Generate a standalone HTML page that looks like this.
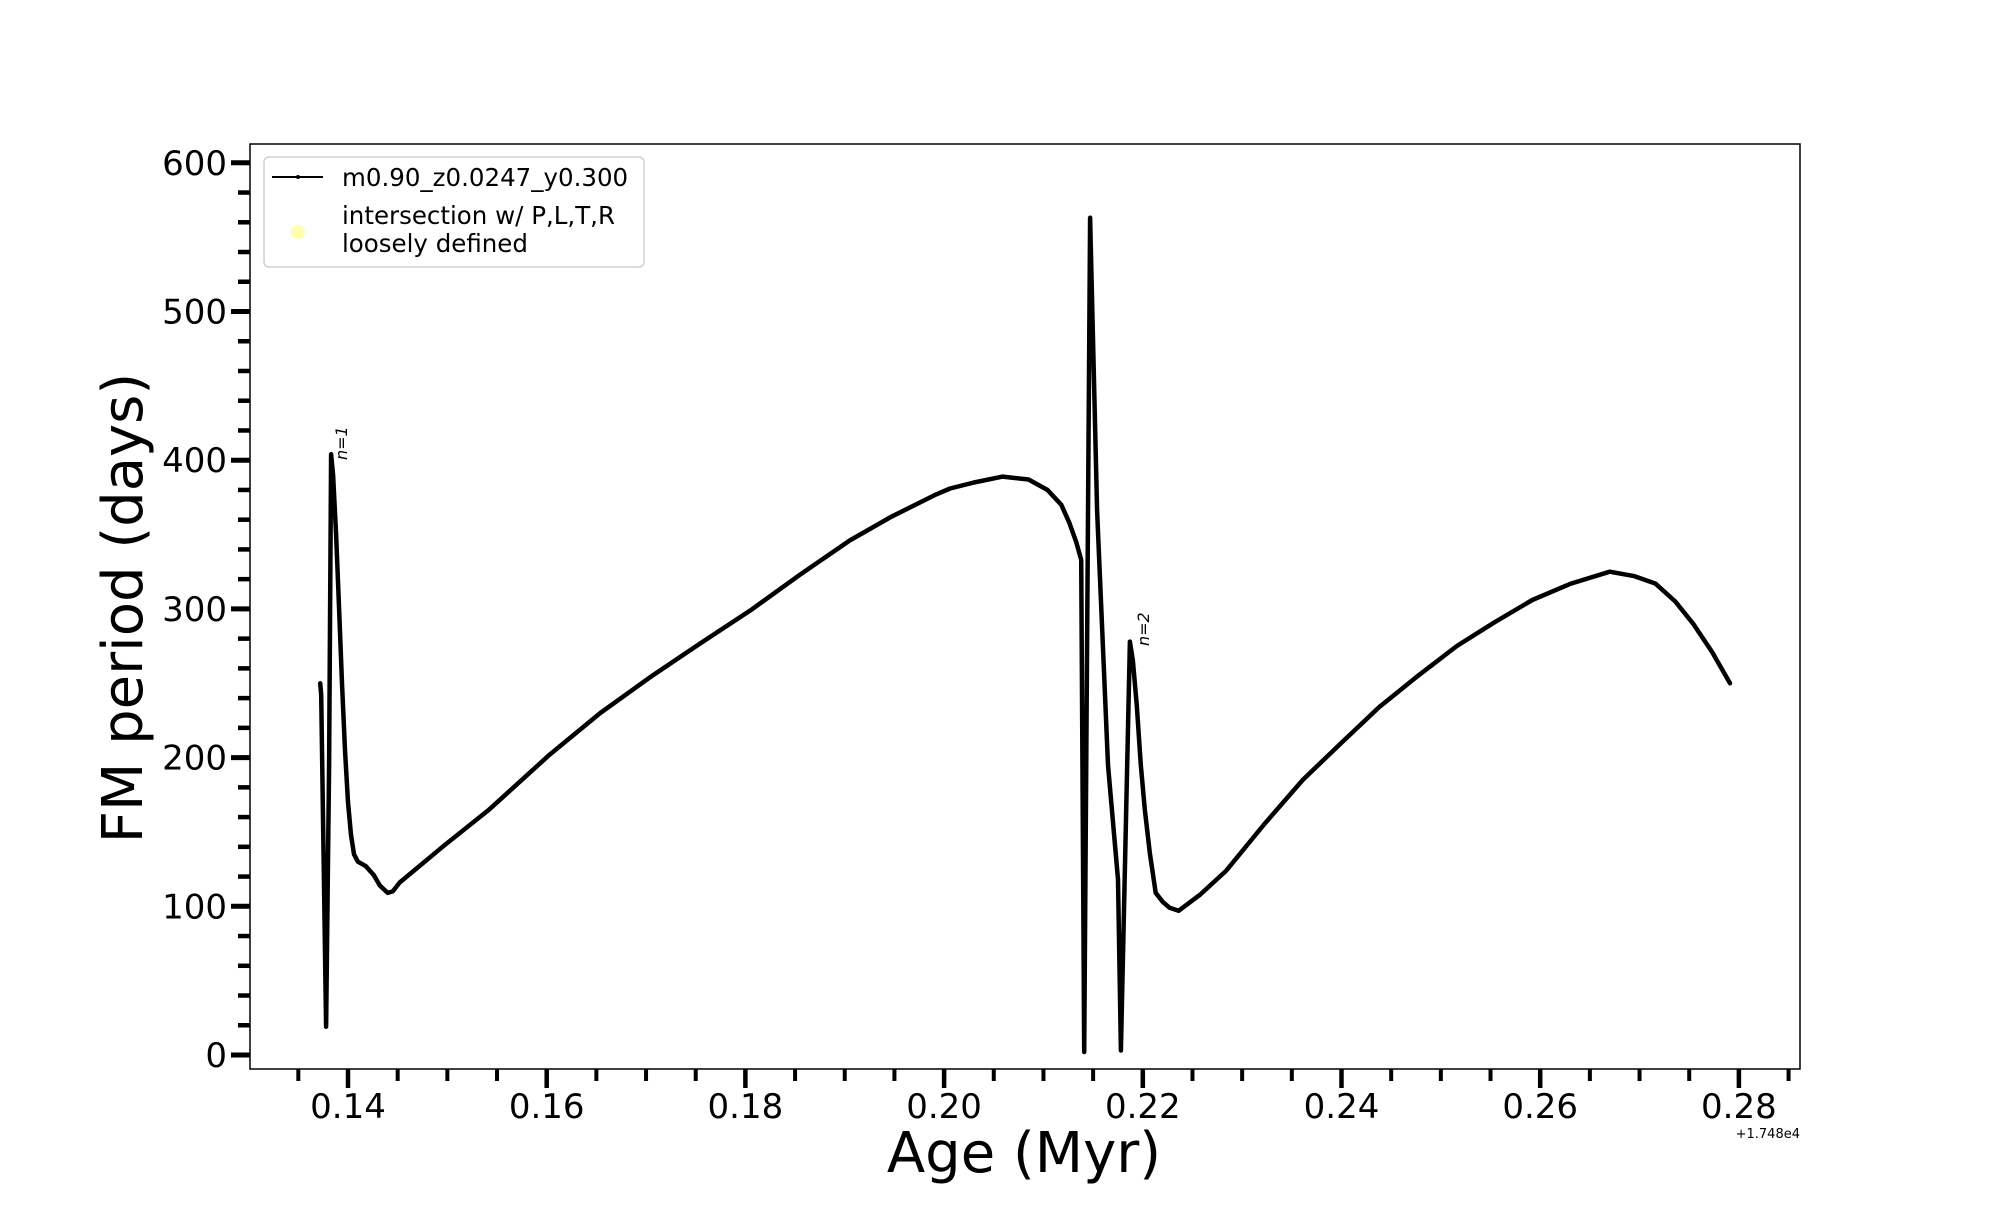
<!DOCTYPE html>
<html><head><meta charset="utf-8">
<style>
html,body{margin:0;padding:0;background:#fff;}
svg text{font-family:"DejaVu Sans","Liberation Sans",sans-serif;}
</style></head>
<body>
<svg id="chart" width="2000" height="1200" viewBox="0 0 2000 1200" xmlns="http://www.w3.org/2000/svg">
<rect x="0" y="0" width="2000" height="1200" fill="#fff"/>
<g id="ticks"></g>
<clipPath id="clip"><rect x="250" y="144" width="1550" height="925"/></clipPath>
<g id="series" clip-path="url(#clip)"></g>
<rect x="250" y="144" width="1550" height="925" fill="none" stroke="#000" stroke-width="1.5"/>
<text x="1024" y="1172" font-size="56" text-anchor="middle">Age (Myr)</text>
<text transform="translate(142,608) rotate(-90)" font-size="56" text-anchor="middle">FM period (days)</text>
<text x="1800" y="1138" font-size="13" text-anchor="end">+1.748e4</text>
<text transform="translate(347,460) rotate(-90)" font-size="16" font-style="italic">n=1</text>
<text transform="translate(1149,646) rotate(-90)" font-size="16" font-style="italic">n=2</text>
<g>
<rect x="264" y="157" width="380" height="110" rx="5" fill="#fff" fill-opacity="0.8" stroke="#d0d0d0" stroke-width="1.5"/>
<line x1="272" y1="177" x2="323" y2="177" stroke="#000" stroke-width="2"/>
<circle cx="298" cy="177" r="2" fill="#000"/>
<text x="342" y="186" font-size="24.5">m0.90_z0.0247_y0.300</text>
<circle cx="298" cy="232" r="7" fill="#ffffb0"/>
<text x="342" y="224" font-size="24.5">intersection w/ P,L,T,R</text>
<text x="342" y="252" font-size="24.5">loosely defined</text>
</g>
</svg>
<script>
const ages = [0.1372,0.1373,0.1378,0.1381,0.1383,0.1385,0.1388,0.1391,0.1394,0.1397,0.1400,0.1403,0.1406,0.1410,0.1418,0.1426,0.1432,0.1440,0.1445,0.1452,0.1497,0.1542,0.1603,0.1654,0.1704,0.1755,0.1805,0.1855,0.1905,0.1947,0.1992,0.2006,0.2030,0.2059,0.2085,0.2104,0.2118,0.2126,0.2133,0.2138,0.2141,0.2147,0.2154,0.2165,0.2175,0.2178,0.2187,0.2190,0.2194,0.2198,0.2202,0.2207,0.2213,0.2220,0.2227,0.2236,0.2258,0.2284,0.2322,0.2361,0.2400,0.2438,0.2477,0.2516,0.2554,0.2592,0.2631,0.2670,0.2695,0.2716,0.2736,0.2754,0.2773,0.2791];
const periods = [250,242,19,195,404,390,350,300,250,205,170,148,135,130,127,121,114,109,110,116,141,165,202,230,254,277,299,323,346,362,377,381,385,389,387,380,370,358,345,333,2,563,366,195,118,3,278,265,235,195,165,136,109,103,99,97,108,124,155,185,210,234,255,275,291,306,317,325,322,317,305,290,271,250];
const xTickLabels = ["0.14","0.16","0.18","0.20","0.22","0.24","0.26","0.28"];
const xTickValues = [0.14,0.16,0.18,0.20,0.22,0.24,0.26,0.28];
const yTickLabels = ["0","100","200","300","400","500","600"];
const yTickValues = [0,100,200,300,400,500,600];

function xs(a){return 348 + (a-0.14)/0.01*99.35;}
function ys(p){return 1055 - p*1.487;}
const NS="http://www.w3.org/2000/svg";
const tg=document.getElementById('ticks');
function mk(tag,attrs,parent){const e=document.createElementNS(NS,tag);for(const k in attrs)e.setAttribute(k,attrs[k]);parent.appendChild(e);return e;}

for(let i=0;;i++){const v=0.135+i*0.005;if(v>0.2861)break;const x=xs(v);
  const t=mk('line',{x1:x,y1:1069,x2:x,y2:1081,stroke:'#000','stroke-width':4},tg);
  
  }
xTickValues.forEach((v,i)=>{const x=xs(v);
  const t=mk('line',{x1:x,y1:1069,x2:x,y2:1088,stroke:'#000','stroke-width':4.5},tg);
  
  
  const l=mk('text',{x:x,y:1118,'font-size':34,'text-anchor':'middle'},tg);
  l.textContent=xTickLabels[i];
  
  });
for(let v=0;v<=600;v+=20){const y=ys(v);
  const t=mk('line',{x1:250,y1:y,x2:238,y2:y,stroke:'#000','stroke-width':4.5},tg);
  
  }
yTickValues.forEach((v,i)=>{const y=ys(v);
  const t=mk('line',{x1:250,y1:y,x2:231,y2:y,stroke:'#000','stroke-width':5},tg);
  
  
  const l=mk('text',{x:227,y:y+12,'font-size':34,'text-anchor':'end'},tg);
  l.textContent=yTickLabels[i];
  
  });

const sg=document.getElementById('series');
const pts=ages.map((a,i)=>xs(a).toFixed(1)+','+ys(periods[i]).toFixed(1)).join(' ');
const pl=mk('polyline',{points:pts,fill:'none',stroke:'#000','stroke-width':4.5,'stroke-linejoin':'round','stroke-linecap':'round'},sg);


</script>
</body></html>
